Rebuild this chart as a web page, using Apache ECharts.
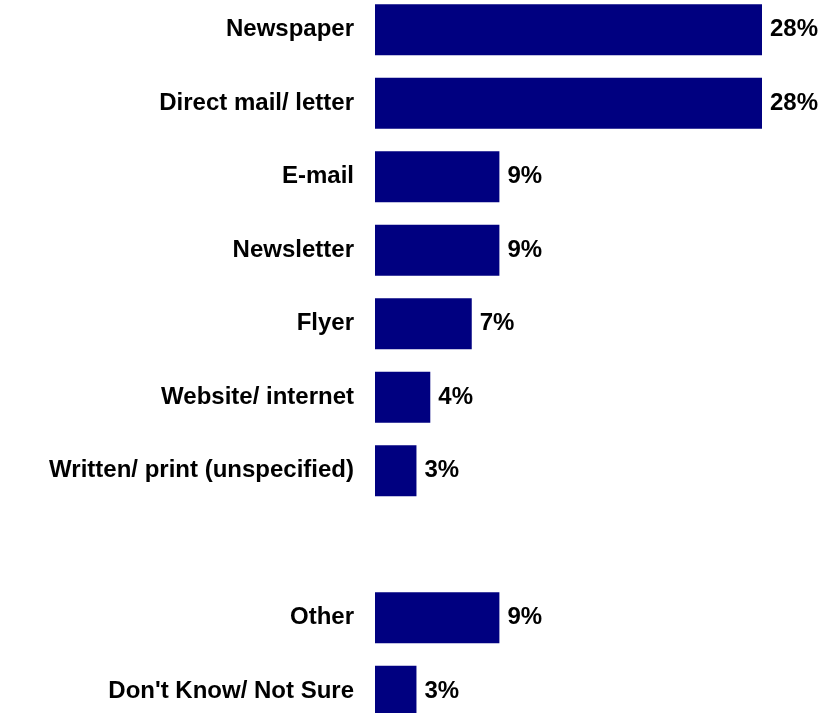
<!DOCTYPE html>
<html>
<head>
<meta charset="utf-8">
<script src="https://cdn.jsdelivr.net/npm/echarts@6/dist/echarts.min.js"></script>
<style>
  html, body { margin: 0; padding: 0; background: #fff; overflow: hidden; }
  /* the plot rows run past the window top and bottom edge, so the canvas is taller and shifted up */
  #chart { width: 838px; height: 735px; margin-top: -7px; }
</style>
</head>
<body>
<div id="chart"></div>
<script>
// categories top to bottom; '' is the empty spacer row
const categories = [
  'Newspaper',
  'Direct mail/ letter',
  'E-mail',
  'Newsletter',
  'Flyer',
  'Website/ internet',
  'Written/ print (unspecified)',
  '',
  'Other',
  "Don't Know/ Not Sure"
]
const values = [28, 28, 9, 9, 7, 4, 3, null, 9, 3]

const chart = echarts.init(document.getElementById('chart'))
const font = 'Liberation Sans, Arial, sans-serif'

chart.setOption({
  animation: false,
  grid: { left: 375, width: 387, top: 0, bottom: 0, containLabel: false },
  xAxis: {
    type: 'value',
    min: 0,
    max: 28,
    show: false
  },
  yAxis: {
    type: 'category',
    inverse: true,
    data: categories,
    axisLine: { show: false },
    axisTick: { show: false },
    axisLabel: {
      margin: 21,
      color: '#000',
      fontFamily: font,
      fontWeight: 'bold',
      fontSize: 24
    }
  },
  series: [
    {
      type: 'bar',
      data: values,
      barWidth: 51,
      itemStyle: { color: '#000080' },
      label: {
        show: true,
        position: 'right',
        distance: 8,
        formatter: (p) => p.value + '%',
        color: '#000',
        fontFamily: font,
        fontWeight: 'bold',
        fontSize: 24
      }
    }
  ]
})
</script>
</body>
</html>
